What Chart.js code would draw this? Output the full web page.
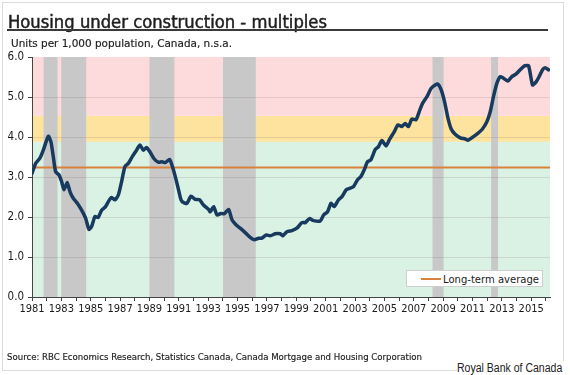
<!DOCTYPE html>
<html><head><meta charset="utf-8">
<script src="https://cdn.jsdelivr.net/npm/chart.js@4.4.1/dist/chart.umd.min.js"></script>
<style>
html,body{margin:0;padding:0;background:#fff;}
#wrap{position:relative;width:570px;height:375px;overflow:hidden;background:#fff;}
#frame{position:absolute;left:2px;top:2px;width:562px;height:369px;border:1px solid #dcdcdc;box-sizing:border-box;}
canvas{position:absolute;left:0;top:0;}
.t{position:absolute;white-space:nowrap;transform-origin:left top;line-height:1;}
#title{left:8px;top:12px;font:17px "DejaVu Sans Condensed","DejaVu Sans",sans-serif;color:#1e1e1e;-webkit-text-stroke:0.45px #1e1e1e;}
#uline{position:absolute;left:7px;top:29px;width:541px;height:2px;background:#3a3a3a;}
#sub{left:11px;top:38px;font:10px "DejaVu Sans Condensed","DejaVu Sans",sans-serif;color:#222;-webkit-text-stroke:0.15px #222;}
#src{left:7px;top:352px;font:9px "DejaVu Sans Condensed","DejaVu Sans",sans-serif;color:#222;-webkit-text-stroke:0.15px #222;}
#credit{left:457px;top:361px;font:12px "Liberation Sans",Arial,sans-serif;color:#222;background:#fff;padding-right:2px;}
#legend{position:absolute;left:406px;top:270px;width:137px;height:17px;background:#fff;border:1px solid #cfcfcf;box-sizing:border-box;}
#legline{position:absolute;left:14px;top:7px;width:20px;height:2px;background:#d9823b;}
#legtxt{left:36px;top:2px;font:11px "DejaVu Sans Condensed","DejaVu Sans",sans-serif;color:#222;}
</style></head>
<body><div id="wrap">
<div id="frame"></div>
<canvas id="c" width="570" height="375"></canvas>
<div class="t" id="title" data-w="319">Housing under construction - multiples</div>
<div id="uline"></div>
<div class="t" id="sub" data-w="221">Units per 1,000 population, Canada, n.s.a.</div>
<div id="legend"><div id="legline"></div><div class="t" id="legtxt" data-w="96">Long-term average</div></div>
<div class="t" id="src" data-w="415">Source: RBC Economics Research, Statistics Canada, Canada Mortgage and Housing Corporation</div>
<div class="t" id="credit" data-w="107">Royal Bank of Canada</div>
</div>
<script>
// ---- data ----
const years = [1981.00,1981.25,1981.54,1981.77,1982.11,1982.29,1982.45,1982.61,1982.84,1983.02,1983.18,1983.40,1983.59,1983.81,1984.10,1984.38,1984.65,1984.88,1985.06,1985.29,1985.51,1985.74,1986.01,1986.24,1986.42,1986.65,1986.88,1987.10,1987.33,1987.56,1987.83,1988.12,1988.35,1988.58,1988.80,1989.03,1989.33,1989.60,1989.85,1990.08,1990.37,1990.53,1990.76,1990.98,1991.15,1991.32,1991.55,1991.83,1992.12,1992.41,1992.68,1993.03,1993.14,1993.37,1993.60,1993.87,1994.09,1994.39,1994.62,1994.91,1995.18,1995.52,1995.86,1996.14,1996.43,1996.66,1996.95,1997.23,1997.57,1997.91,1998.09,1998.36,1998.70,1999.04,1999.38,1999.61,1999.90,2000.17,2000.63,2000.86,2001.13,2001.36,2001.58,2001.88,2002.11,2002.40,2002.67,2002.90,2003.17,2003.40,2003.63,2003.85,2004.08,2004.38,2004.60,2004.83,2005.12,2005.35,2005.67,2005.92,2006.19,2006.42,2006.64,2006.87,2007.15,2007.37,2007.60,2007.90,2008.19,2008.46,2008.65,2008.87,2009.10,2009.33,2009.55,2009.82,2010.17,2010.51,2010.69,2010.96,2011.30,2011.68,2011.98,2012.21,2012.43,2012.66,2012.89,2013.11,2013.41,2013.68,2013.96,2014.25,2014.54,2014.82,2015.09,2015.32,2015.54,2015.77,2015.95,2016.18];
const multiples = [3.09,3.34,3.47,3.67,4.02,3.88,3.51,3.13,3.05,2.88,
2.68,2.86,2.63,2.47,2.34,2.17,1.97,1.69,1.76,2.01,
1.99,2.17,2.26,2.41,2.49,2.43,2.55,2.88,3.26,3.34,
3.51,3.67,3.80,3.67,3.74,3.63,3.45,3.37,3.38,3.36,
3.44,3.30,3.01,2.68,2.43,2.36,2.34,2.52,2.44,2.43,
2.30,2.19,2.13,2.26,2.05,2.09,2.08,2.19,1.93,1.80,
1.72,1.61,1.49,1.43,1.47,1.47,1.55,1.53,1.58,1.58,
1.53,1.63,1.66,1.72,1.86,1.86,1.96,1.91,1.90,2.05,
2.13,2.34,2.26,2.43,2.51,2.68,2.72,2.76,2.93,3.01,
3.18,3.38,3.43,3.69,3.76,3.91,3.78,3.94,4.13,4.30,
4.26,4.34,4.26,4.45,4.43,4.63,4.84,5.01,5.22,5.30,
5.32,5.18,4.88,4.47,4.20,4.07,3.98,3.95,3.92,3.98,
4.07,4.20,4.38,4.63,5.01,5.34,5.51,5.47,5.40,5.51,
5.57,5.68,5.78,5.78,5.30,5.37,5.51,5.68,5.73,5.68];
const longTermAverage = 3.24;
const xMin = 1981, xMax = 2016.28;
const yTicks = [0,1,2,3,4,5,6];
// shaded periods (start, end) in years
const shadeStart = [1981.79,1982.99,1989.00,1994.01,2008.28,2012.27];
const shadeEnd   = [1982.74,1984.69,1990.70,1996.24,2009.03,2012.74];
// valuation zones (lower, upper)
const zoneLow  = [0,3.88,4.53];
const zoneHigh = [3.88,4.53,6];
const zoneColor = ['#d9f2e3','#fde39d','#fddadb'];

// fit html text widths
document.querySelectorAll('.t[data-w]').forEach(el=>{
  const w = el.getBoundingClientRect().width;
  const k = parseFloat(el.dataset.w)/w;
  el.style.transform = 'scaleX('+k+')';
});

const bgPlugin = {
  id:'bg',
  beforeDraw(chart){
    const {ctx, chartArea:a, scales:{x,y}} = chart;
    ctx.save();
    for(let i=0;i<zoneLow.length;i++){
      const t=y.getPixelForValue(zoneHigh[i]), b=y.getPixelForValue(zoneLow[i]);
      ctx.fillStyle=zoneColor[i];
      ctx.fillRect(a.left,t,a.right-a.left,b-t);
    }
    ctx.fillStyle='#c8c8c8';
    for(let i=0;i<shadeStart.length;i++){
      const l=x.getPixelForValue(shadeStart[i]), r=x.getPixelForValue(shadeEnd[i]);
      ctx.fillRect(l,a.top,r-l,a.bottom-a.top);
    }
    ctx.restore();
  }
};

const tickFont = {family:'"DejaVu Sans Condensed","DejaVu Sans",sans-serif', size:11.5};
new Chart(document.getElementById('c'),{
  type:'line',
  data:{datasets:[
    {label:'Long-term average', data:[{x:xMin,y:longTermAverage},{x:xMax,y:longTermAverage}],
     borderColor:'#d9823b', borderWidth:2, pointRadius:0, order:2},
    {label:'Housing under construction', data:years.map((yr,i)=>({x:yr,y:multiples[i]})),
     borderColor:'#173a5e', borderWidth:3.5, pointRadius:0, tension:0.2, order:1,
     borderCapStyle:'round', borderJoinStyle:'round'}
  ]},
  options:{
    responsive:false, animation:false,
    layout:{padding:{left:0,top:57,right:20,bottom:0}},
    plugins:{legend:{display:false}, tooltip:{enabled:false}},
    scales:{
      x:{type:'linear', min:xMin, max:xMax,
        afterFit(s){ s.height = 78; },
        border:{display:true,color:'#444',width:1},
        grid:{drawOnChartArea:false, drawTicks:true, tickLength:4, tickColor:'#444'},
        ticks:{stepSize:1, includeBounds:false, autoSkip:false, maxRotation:0, padding:2,
          color:'#1a1a1a', font:{...tickFont, size:11},
          callback:(v)=> (Math.round(v)%2===1 ? String(Math.round(v)) : '')}
      },
      y:{min:0,max:6,
        afterFit(s){ s.width = 32; },
        afterBuildTicks(s){ s.ticks = yTicks.map(v=>({value:v})); },
        border:{display:true,color:'#444',width:1},
        grid:{drawOnChartArea:true, tickLength:4, tickColor:'#444',
          color:(c)=> (c.tick && (c.tick.value===0||c.tick.value===6)) ? 'rgba(0,0,0,0)' : 'rgba(110,90,90,0.16)'},
        ticks:{padding:4, color:'#1a1a1a', font:tickFont, callback:(v)=>Number(v).toFixed(1)}
      }
    }
  },
  plugins:[bgPlugin]
});
</script>
</body></html>
